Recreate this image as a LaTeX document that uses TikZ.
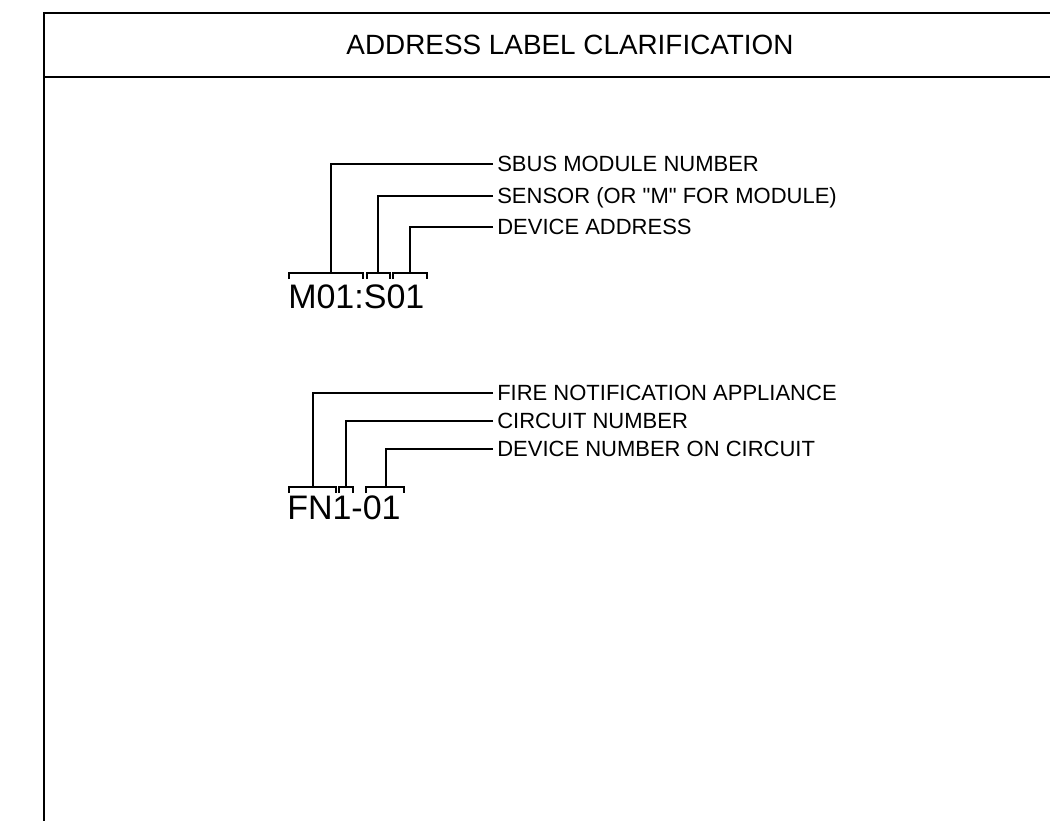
\documentclass[tikz,border=0pt]{standalone}
\usepackage{fontspec}
\setmainfont{Liberation Sans}
\newfontfamily\qfont{Liberation Sans}
\newcommand{\dq}{{\qfont"}}
\begin{document}
\begin{tikzpicture}[x=0.75pt,y=-0.75pt,
  frame/.style={line width=1.9pt},
  lead/.style={line width=1.35pt},
  lbl/.style={font=\fontsize{16.5}{18}\selectfont, inner sep=0pt, anchor=west, text height=11.8pt, text depth=0pt},
  code/.style={font=\fontsize{25.5}{28}\selectfont, inner sep=0pt, anchor=base west},
  ttl/.style={font=\fontsize{20.9}{24}\selectfont, inner sep=0pt, text height=15pt, text depth=0pt}]
\useasboundingbox (0,0) rectangle (1050,821);
% frame
\draw[frame] (1050,13) -- (44,13) -- (44,821);
\draw[frame] (44,77) -- (1050,77);
\node[ttl] (title) at (570,45) {ADDRESS LABEL CLARIFICATION};

% ---- M01:S01 ----
\node[code] (m01) at (288,308) {M01:S01};
\node[lbl] (sbus) at (497,164) {SBUS MODULE NUMBER};
\node[lbl] (sensor) at (497,196) {SENSOR (OR \dq M\dq{} FOR MODULE)};
\node[lbl] (devaddr) at (497,227) {DEVICE ADDRESS};
\coordinate (ma) at (331,273);
\coordinate (mb) at (378,273);
\coordinate (mc) at (410,273);
\draw[lead] (289,279) -- (289,273) -- (363,273) -- (363,279);
\draw[lead] (367,279) -- (367,273) -- (390,273) -- (390,279);
\draw[lead] (393,279) -- (393,273) -- (427,273) -- (427,279);
\draw[lead] ([xshift=-3pt]sbus.west) -| (ma);
\draw[lead] ([xshift=-3pt]sensor.west) -| (mb);
\draw[lead] ([xshift=-3pt]devaddr.west) -| (mc);

% ---- FN1-01 ----
\node[code] (fn) at (287,519) {FN1-01};
\node[lbl] (fire) at (497,393) {FIRE NOTIFICATION APPLIANCE};
\node[lbl] (circ) at (497,421) {CIRCUIT NUMBER};
\node[lbl] (devnum) at (497,449) {DEVICE NUMBER ON CIRCUIT};
\coordinate (fa) at (313,487);
\coordinate (fb) at (346,487);
\coordinate (fc) at (386,487);
\draw[lead] (289,493) -- (289,487) -- (336,487) -- (336,493);
\draw[lead] (339,493) -- (339,487) -- (353,487) -- (353,493);
\draw[lead] (366,493) -- (366,487) -- (404,487) -- (404,493);
\draw[lead] ([xshift=-3pt]fire.west) -| (fa);
\draw[lead] ([xshift=-3pt]circ.west) -| (fb);
\draw[lead] ([xshift=-3pt]devnum.west) -| (fc);
\end{tikzpicture}
\end{document}
